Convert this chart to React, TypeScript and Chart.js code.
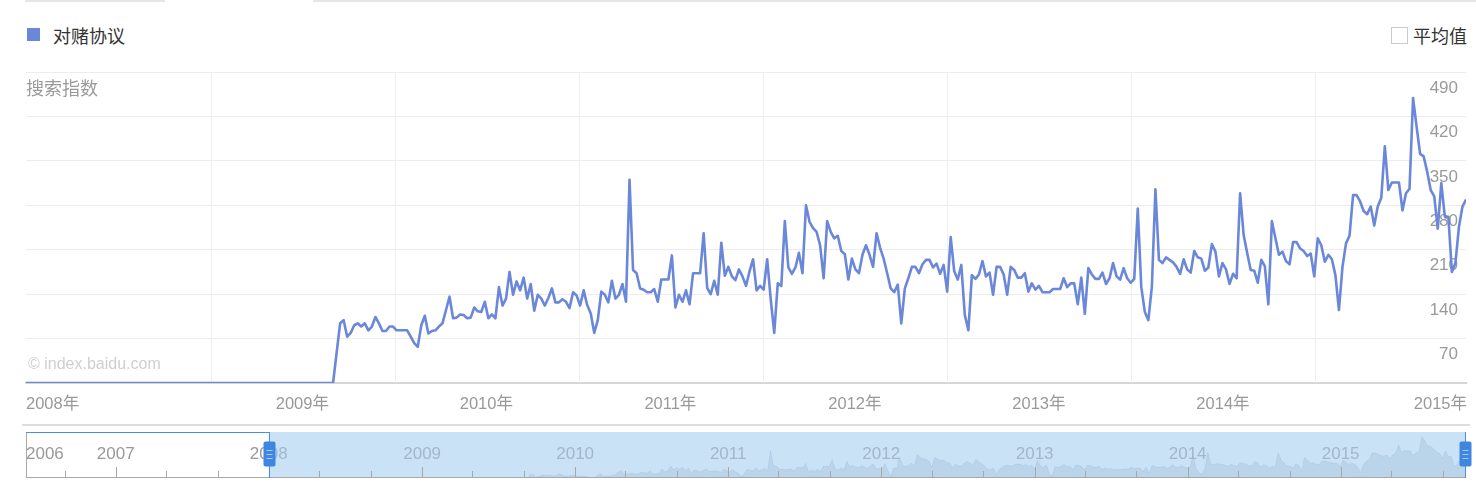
import React, { useEffect, useRef } from 'react';
import { Chart, registerables } from 'chart.js';

Chart.register(...registerables);

// ---------- text ----------
const seriesName = '对赌协议';
const axisTitle = '搜索指数';
const averageLabel = '平均值';
const watermarkText = '© index.baidu.com';

// ---------- data (weekly search index, first week = 2008-01-01) ----------
const flatWeeks = [
  0, 0, 0, 0, 0, 0, 0, 0, 0, 0, 0, 0, 0, 0, 0, 0, 0, 0, 0, 0, 0, 0,
  0, 0, 0, 0, 0, 0, 0, 0, 0, 0, 0, 0, 0, 0, 0, 0, 0, 0, 0, 0, 0, 0,
  0, 0, 0, 0, 0, 0, 0, 0, 0, 0, 0, 0, 0, 0, 0, 0, 0, 0, 0, 0, 0, 0,
  0, 0, 0, 0, 0, 0, 0, 0, 0, 0, 0, 0, 0, 0, 0, 0, 0, 0, 0, 0, 0, 0,
];
const from2009Sep = [
  47, 94, 99, 73, 79, 91, 94, 89, 94, 83, 89, 104, 94, 82, 82, 89, 89, 83, 83, 83,
  83, 73, 63, 57, 91, 106, 78, 82, 83, 89, 94, 115, 136, 102, 103, 108, 107, 102, 103, 119,
  113, 112, 128, 102, 108, 102, 151, 122, 133, 175, 139, 160, 146, 166, 133, 156, 114, 139, 133, 122,
  134, 149, 127, 127, 132, 128, 118, 143, 138, 122, 146, 123, 110, 79, 99,
];
const from2011Feb = [
  144, 139, 127, 161, 133, 139, 156, 128, 320, 178, 173, 149, 147, 143, 143, 148, 128, 163, 163, 163,
  201, 119, 139, 128, 146, 124, 173, 173, 173, 236, 150, 140, 161, 139, 221, 169, 183, 168, 162, 179,
  168, 153, 176, 195, 146, 153, 147, 195, 132, 79, 157, 153, 255, 182, 172, 182, 205, 173, 280, 254,
  244, 238, 217, 165, 255, 238, 228, 232, 208, 203, 163, 196, 179, 173, 202, 217, 202, 183, 236, 213,
  196, 173, 149, 143, 155, 94,
];
const from2012Oct = [
  149, 165, 183, 183, 173, 187, 194, 194, 182, 188, 172, 186, 144, 230, 176, 163, 186, 107, 83, 170,
  164, 171, 192, 168, 174, 139, 183, 183, 171, 139, 183, 178, 166, 166, 173, 144, 157, 147, 153, 143,
  143, 143, 148, 148, 148, 165, 151, 157, 157, 124, 166, 109, 181, 171, 164, 164, 174, 156, 165, 189,
  168, 163, 181, 165, 158, 164, 275, 151, 112, 99,
];
const from2014Feb = [
  152, 305, 194, 189, 198, 194, 190, 183, 172, 195, 179, 174, 208, 198, 196, 177, 182, 219, 207, 168,
  189, 179, 156, 172, 165, 299, 233, 205, 178, 177, 158, 194, 184, 124, 255, 228, 202, 207, 192, 187,
  222, 222, 212, 208, 200, 204, 168, 228, 217, 191, 202, 195, 170, 115, 183, 220, 232, 296, 296, 286,
  271, 266, 278, 248, 278, 292, 373, 304, 316, 316, 316, 272, 299, 306, 449, 404, 361, 357, 333, 304,
  294, 243, 315, 262, 262, 175, 189, 246, 278, 289,
];
const weeklyIndex = [...flatWeeks, ...from2009Sep, ...from2011Feb, ...from2012Oct, ...from2014Feb];

// ---------- axes ----------
const yTickValues = [0, 70, 140, 210, 280, 350, 420, 490];
const labelYears = [2008, 2009, 2010, 2011, 2012, 2013, 2014, 2015];
const yearLabels = ['2008年', '2009年', '2010年', '2011年', '2012年', '2013年', '2014年', '2015年'];
const navYears = [2006, 2007, 2008, 2009, 2010, 2011, 2012, 2013, 2014, 2015];
const navYearLabels = ['2006', '2007', '2008', '2009', '2010', '2011', '2012', '2013', '2014', '2015'];
const navTickMonths = [0, 4, 8];

// ---------- styles ----------
const LINE = '#6a87d9';
const FONT = '"Liberation Sans", Arial, "Noto Sans CJK SC", sans-serif';
const CJK = '"Noto Sans CJK SC", "Liberation Sans", sans-serif';

const T0 = Date.UTC(2008, 0, 1);
const WEEK_MS = 7 * 86400000;
const weekOf = (y: number, m: number, d: number) => (Date.UTC(y, m, d) - T0) / WEEK_MS;

const points = weeklyIndex.map((v, i) => ({ x: i, y: v }));
const lastWeek = weeklyIndex.length - 1;

const mainDecor = {
  id: 'mainDecor',
  beforeDatasetsDraw(chart: any) {
    const { ctx, chartArea: a, scales } = chart;
    const x = scales.x;
    ctx.save();
    ctx.strokeStyle = '#efefef';
    ctx.lineWidth = 1;
    labelYears.slice(1).forEach((yr) => {
      const px = Math.round(x.getPixelForValue(weekOf(yr, 0, 1))) + 0.5;
      ctx.beginPath();
      ctx.moveTo(px, a.top);
      ctx.lineTo(px, a.bottom);
      ctx.stroke();
    });
    ctx.restore();
  },
  afterDraw(chart: any) {
    const { ctx, chartArea: a, scales } = chart;
    const x = scales.x;
    ctx.save();
    ctx.font = `16.5px ${FONT}`;
    ctx.fillStyle = '#999999';
    ctx.textBaseline = 'middle';
    const y = a.bottom + 21;
    yearLabels.forEach((lab, i) => {
      if (i === 0) {
        ctx.textAlign = 'left';
        ctx.fillText(lab, a.left, y);
      } else if (i === yearLabels.length - 1) {
        ctx.textAlign = 'right';
        ctx.fillText(lab, a.right + 1, y);
      } else {
        ctx.textAlign = 'center';
        ctx.fillText(lab, x.getPixelForValue(weekOf(labelYears[i], 6, 2)), y);
      }
    });
    ctx.restore();
  },
};

const navDecor = {
  id: 'navDecor',
  beforeDatasetsDraw(chart: any) {
    const { ctx, chartArea: a, scales } = chart;
    const x = scales.x;
    const xl = x.getPixelForValue(0);
    const xr = x.getPixelForValue(lastWeek);
    ctx.save();
    ctx.fillStyle = '#c9e2f6';
    ctx.fillRect(xl, a.top, xr - xl, a.bottom - a.top);
    ctx.restore();
  },
  afterDatasetsDraw(chart: any) {
    const { ctx, chartArea: a, scales } = chart;
    const x = scales.x;
    const xl = Math.round(x.getPixelForValue(0)) + 0.5;
    const xr = Math.round(x.getPixelForValue(lastWeek)) - 0.5;
    const ly = a.top + 22.5;
    const drawLabels = (color: string) => {
      ctx.font = `17px ${FONT}`;
      ctx.fillStyle = color;
      ctx.textBaseline = 'middle';
      navYears.forEach((yr, i) => {
        if (i === 0) {
          ctx.textAlign = 'left';
          ctx.fillText(navYearLabels[i], a.left, ly);
        } else {
          ctx.textAlign = 'center';
          ctx.fillText(navYearLabels[i], x.getPixelForValue(weekOf(yr, 0, 1)), ly);
        }
      });
    };
    ctx.save();
    ctx.beginPath();
    ctx.rect(0, a.top, xl, a.bottom - a.top);
    ctx.clip();
    drawLabels('#999999');
    ctx.restore();
    ctx.save();
    ctx.beginPath();
    ctx.rect(xl, a.top, chart.width - xl, a.bottom - a.top);
    ctx.clip();
    drawLabels('#a2b7ca');
    ctx.restore();

    ctx.save();
    ctx.lineWidth = 1;
    ctx.strokeStyle = '#a8a8a8';
    navYears.forEach((yr) => {
      navTickMonths.forEach((m) => {
        const w = weekOf(yr, m, 1);
        if (w <= x.min || w > x.max) return;
        const px = Math.round(x.getPixelForValue(w)) + 0.5;
        const len = m === 0 ? 10 : 6;
        ctx.beginPath();
        ctx.moveTo(px, a.bottom - len);
        ctx.lineTo(px, a.bottom);
        ctx.stroke();
      });
    });
    ctx.strokeStyle = '#a8a8a8';
    ctx.beginPath();
    ctx.moveTo(a.left, Math.round(a.bottom) + 0.5);
    ctx.lineTo(a.right, Math.round(a.bottom) + 0.5);
    ctx.stroke();
    ctx.beginPath();
    ctx.moveTo(Math.round(a.left) + 0.5, a.top);
    ctx.lineTo(Math.round(a.left) + 0.5, a.bottom);
    ctx.stroke();
    // selection outline
    ctx.strokeStyle = '#4a8ee8';
    ctx.beginPath();
    ctx.moveTo(a.left, Math.round(a.top) + 0.5);
    ctx.lineTo(xl, Math.round(a.top) + 0.5);
    ctx.stroke();
    [xl, xr].forEach((px) => {
      ctx.beginPath();
      ctx.moveTo(px, a.top);
      ctx.lineTo(px, a.bottom + 1);
      ctx.stroke();
    });
    // handles
    [xl, xr].forEach((px) => {
      const w = 12;
      const h = 25;
      const top = a.top + 9.5;
      const left = px - w / 2;
      ctx.fillStyle = '#3f86e0';
      ctx.beginPath();
      ctx.roundRect(left, top, w, h, 2);
      ctx.fill();
      ctx.strokeStyle = 'rgba(255,255,255,0.55)';
      [-4, 0, 4].forEach((dy) => {
        const yy = Math.round(top + h / 2 + dy) + 0.5;
        ctx.beginPath();
        ctx.moveTo(left + 3, yy);
        ctx.lineTo(left + w - 3, yy);
        ctx.stroke();
      });
    });
    ctx.restore();
  },
};

export default function App() {
  const mainRef = useRef<HTMLCanvasElement>(null);
  const navRef = useRef<HTMLCanvasElement>(null);

  useEffect(() => {
    const main = new Chart(mainRef.current as HTMLCanvasElement, {
      type: 'line',
      data: {
        datasets: [
          {
            label: seriesName,
            data: points,
            borderColor: LINE,
            borderWidth: 2.6,
            pointRadius: 0,
            tension: 0,
            fill: false,
            borderJoinStyle: 'round',
          },
        ],
      },
      options: {
        animation: false,
        responsive: false,
        maintainAspectRatio: false,
        layout: { padding: { left: 26, right: 10, top: 12, bottom: 47 } },
        plugins: { legend: { display: false }, tooltip: { enabled: false } },
        scales: {
          x: {
            type: 'linear',
            min: 0,
            max: lastWeek,
            grid: { display: false, drawTicks: false },
            border: { display: true, color: '#d6d6d6', width: 2 },
            ticks: { display: false },
          },
          y: {
            type: 'linear',
            position: 'right',
            min: 0,
            max: 490,
            afterBuildTicks: (s: any) => {
              s.ticks = yTickValues.map((v) => ({ value: v }));
            },
            grid: {
              color: (c: any) => (c.tick && c.tick.value === 0 ? 'rgba(0,0,0,0)' : '#ececec'),
              lineWidth: 1,
              drawTicks: false,
            },
            border: { display: false },
            ticks: {
              mirror: true,
              padding: -8,
              labelOffset: 16,
              color: '#9a9a9a',
              font: { size: 17, family: FONT },
              callback: (v: any) => (Number(v) === 0 ? '' : String(v)),
            },
          },
        },
      },
      plugins: [mainDecor],
    } as any);

    const nav = new Chart(navRef.current as HTMLCanvasElement, {
      type: 'line',
      data: {
        datasets: [
          {
            data: points,
            borderColor: 'rgba(100,135,170,0.12)',
            backgroundColor: 'rgba(100,135,170,0.15)',
            borderWidth: 1,
            pointRadius: 0,
            tension: 0,
            fill: 'start',
          },
        ],
      },
      options: {
        animation: false,
        responsive: false,
        maintainAspectRatio: false,
        layout: { padding: { left: 26, right: 10, top: 4, bottom: 7 } },
        plugins: { legend: { display: false }, tooltip: { enabled: false } },
        scales: {
          x: { type: 'linear', min: weekOf(2006, 5, 1), max: lastWeek, display: false },
          y: { type: 'linear', min: 75, max: 490, display: false },
        },
      },
      plugins: [navDecor],
    } as any);

    return () => {
      main.destroy();
      nav.destroy();
    };
  }, []);

  const abs = (s: React.CSSProperties): React.CSSProperties => ({ position: 'absolute', ...s });

  return (
    <div style={abs({ left: 0, top: 0, width: 1476, height: 484, background: '#ffffff', overflow: 'hidden', fontFamily: CJK })}>
      <div style={abs({ left: 25, top: 0, width: 140, height: 2, background: '#e6e6e6' })} />
      <div style={abs({ left: 313, top: 0, width: 1163, height: 2, background: '#e6e6e6' })} />
      <div style={abs({ left: 27, top: 28, width: 13, height: 13, background: LINE })} />
      <div style={abs({ left: 53, top: 24, height: 22, lineHeight: '22px', fontSize: 18, color: '#333333', whiteSpace: 'nowrap' })}>{seriesName}</div>
      <div style={abs({ left: 1391, top: 27, width: 17, height: 17, boxSizing: 'border-box', border: '1px solid #cccccc', background: '#fff' })} />
      <div style={abs({ left: 1413, top: 24, height: 22, lineHeight: '22px', fontSize: 18, color: '#333333', whiteSpace: 'nowrap' })}>{averageLabel}</div>
      <canvas ref={mainRef} width={1476} height={370} style={abs({ left: 0, top: 60, width: 1476, height: 370 })} />
      <div style={abs({ left: 26, top: 76, height: 22, lineHeight: '22px', fontSize: 18, color: '#9a9a9a', whiteSpace: 'nowrap' })}>{axisTitle}</div>
      <div style={abs({ left: 28, top: 354, height: 20, lineHeight: '20px', fontSize: 16, color: '#cfcfcf', whiteSpace: 'nowrap', fontFamily: FONT })}>{watermarkText}</div>
      <div style={abs({ left: 22, top: 424, width: 1448, height: 2, background: '#dddddd' })} />
      <canvas ref={navRef} width={1476} height={56} style={abs({ left: 0, top: 428, width: 1476, height: 56 })} />
    </div>
  );
}
